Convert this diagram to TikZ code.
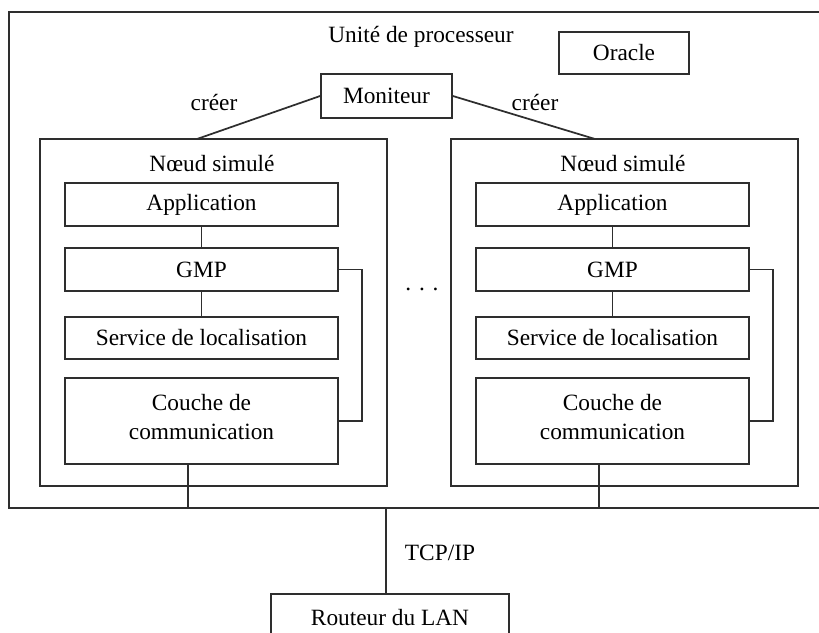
\documentclass[tikz,border=0pt]{standalone}
\usepackage{fontspec}
\setmainfont{Liberation Serif}
\begin{document}
\begin{tikzpicture}[x=0.75pt,y=-0.75pt,
  every node/.style={font=\fontsize{17.5pt}{21.75pt}\selectfont},
  ln/.style={line width=1.3pt, draw=black!82},
  box/.style={ln, draw, rectangle, inner sep=0pt, align=center},
  layer/.style={box, minimum width=273*0.75pt},
  txt/.style={inner sep=0pt}]
\useasboundingbox (0,0) rectangle (819,633);
% outer processor unit frame (open on the right, cut by the picture edge)
\draw[ln] (819,12) -- (9,12) -- (9,508) -- (819,508);
\node[txt] (unit) at (421,37) {Unité de processeur};
\node[box, minimum width=130*0.75pt, minimum height=42*0.75pt] (oracle) at (624,53) {Oracle};
\node[box, minimum width=131*0.75pt, minimum height=44*0.75pt] (mon) at (386.5,96) {Moniteur};
% simulated nodes
\foreach \s/\dx in {L/0, R/411}{
  \node[box, minimum width=347*0.75pt, minimum height=347*0.75pt] (n\s) at (213.5+\dx,312.5) {};
  \node[txt] (t\s) at (212+\dx,163) {Nœud simulé};
  \node[layer, minimum height=43*0.75pt] (a\s) at (201.5+\dx,204.5) {Application};
  \node[layer, minimum height=43*0.75pt] (g\s) at (201.5+\dx,269.5) {GMP};
  \node[layer, minimum height=42*0.75pt] (s\s) at (201.5+\dx,338) {Service de localisation};
  \node[layer, minimum height=86*0.75pt, text depth=6pt] (c\s) at (201.5+\dx,421) {Couche de\\communication};
  \draw[ln] (a\s) -- (g\s);
  \draw[ln] (g\s) -- (s\s);
  \draw[ln] (g\s.east) -- ++(23,0) |- (c\s.east);
}
\coordinate (busL) at (188,508);
\coordinate (busR) at (599,508);
\draw[ln] (cL.south -| busL) -- (busL);
\draw[ln] (cR.south -| busR) -- (busR);
% monitor creates nodes
\coordinate (topL) at (197,139);
\coordinate (topR) at (595,139);
\draw[ln] (mon.west) -- (topL);
\draw[ln] (mon.east) -- (topR);
\node[txt] (cr1) at (214,102) {créer};
\node[txt] (cr2) at (535,102) {créer};
\node[txt, anchor=base] (dots) at (422,290) {. . .};
% router
\node[box, minimum width=238*0.75pt, minimum height=48*0.75pt] (rout) at (390,618) {Routeur du LAN};
\coordinate (busM) at (386,508);
\draw[ln] (busM) -- (busM |- rout.north);
\node[txt] (tcp) at (440,553) {TCP/IP};
\end{tikzpicture}
\end{document}
